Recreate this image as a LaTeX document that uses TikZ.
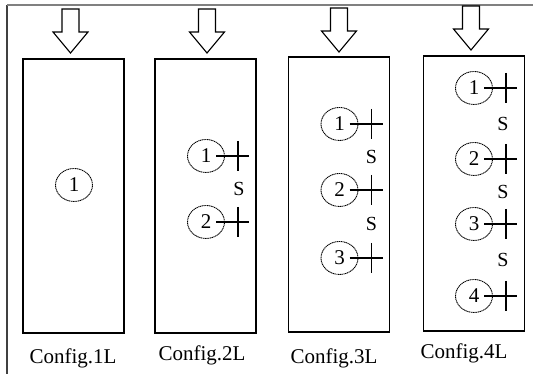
\documentclass[tikz,border=0pt]{standalone}
\usepackage{fontspec}
\setmainfont{Liberation Serif}
\usetikzlibrary{shapes.geometric,calc}
\begin{document}
\begin{tikzpicture}[x=1pt,y=-1pt,
  box/.style={draw, line width=1.2pt, minimum width=101pt, inner sep=0pt},
  hole/.style={draw, dashed, dash pattern=on 1.2pt off 0.6pt, ellipse, line width=0.9pt, minimum width=37pt, minimum height=33pt, inner sep=0pt, font=\fontsize{21}{21}\selectfont},
  gaplabel/.style={font=\fontsize{20}{20}\selectfont, inner sep=0pt},
  cfglabel/.style={font=\fontsize{21}{21}\selectfont, inner sep=0pt},
  crossline/.style={line width=1.1pt},
  loadarrow/.pic={\draw[line width=1.1pt, line join=miter] (-8.5,-44) -- (-8.5,-21) -- (-17.5,-21) -- (0,0) -- (17.5,-21) -- (8.5,-21) -- (8.5,-44) -- cycle;}
]
\useasboundingbox (0,0) rectangle (533,374);
% outer frame
\draw[line width=1.6pt, black!75] (7,374) -- (7,5);
\draw[line width=1.8pt, black!50] (7,5) -- (533,5);

% boxes
\node[box, minimum height=274pt] (r1) at (73.5,196) {};
\node[box, minimum height=274pt] (r2) at (205.5,196) {};
\node[box, minimum height=275pt] (r3) at (339,194.5) {};
\node[box, minimum height=275pt] (r4) at (474,193.5) {};

% load arrows
\pic at (70.5,53) {loadarrow};
\pic at (207,53) {loadarrow};
\pic at (339,52) {loadarrow};
\pic at (471,50) {loadarrow};

% holes
\node[hole] (a1) at (74,185) {1};
\node[hole] (b1) at (206,156) {1};
\node[hole] (b2) at (206,222) {2};
\node[hole] (c1) at (339.5,124) {1};
\node[hole] (c2) at (339.5,190) {2};
\node[hole] (c3) at (339.5,258) {3};
\node[hole] (d1) at (474,88) {1};
\node[hole] (d2) at (474,159) {2};
\node[hole] (d3) at (474,224) {3};
\node[hole] (d4) at (474,296) {4};

% crosses
\foreach \h in {b1,b2,c1,c2,c3,d1,d2,d3,d4}{
  \draw[crossline] ($(\h.center)+(10,0)$) -- ($(\h.center)+(43,0)$);
  \draw[crossline] ($(\h.center)+(32,-15)$) -- ($(\h.center)+(32,15)$);
}

% spacing labels
\node[gaplabel] (s1) at ($(b1)!0.5!(b2)+(33,0)$) {S};
\node[gaplabel] (s2) at ($(c1)!0.5!(c2)+(32,0)$) {S};
\node[gaplabel] (s3) at ($(c2)!0.5!(c3)+(32,0)$) {S};
\node[gaplabel] (s4) at ($(d1)!0.5!(d2)+(29,0)$) {S};
\node[gaplabel] (s5) at ($(d2)!0.5!(d3)+(29,0)$) {S};
\node[gaplabel] (s6) at ($(d3)!0.5!(d4)+(29,0)$) {S};

% captions
\node[cfglabel] (l1) at (73,358) {Config.1L};
\node[cfglabel] (l2) at (202,355) {Config.2L};
\node[cfglabel] (l3) at (334,358) {Config.3L};
\node[cfglabel] (l4) at (464,353) {Config.4L};
\end{tikzpicture}
\end{document}
